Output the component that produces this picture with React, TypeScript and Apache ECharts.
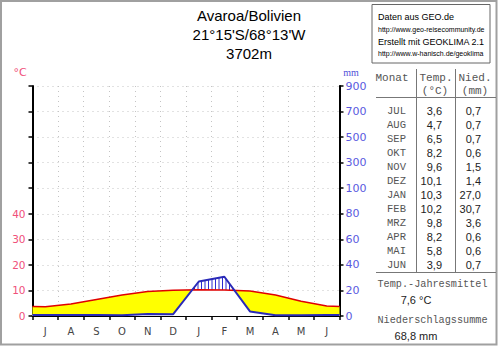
import React, { useEffect, useRef } from 'react';
import * as echarts from 'echarts';

// ---- data ----
const monthLetters = ['J', 'A', 'S', 'O', 'N', 'D', 'J', 'F', 'M', 'A', 'M', 'J'];
const tableMonths = ['JUL', 'AUG', 'SEP', 'OKT', 'NOV', 'DEZ', 'JAN', 'FEB', 'MRZ', 'APR', 'MAI', 'JUN'];
const temperature = [3.6, 4.7, 6.5, 8.2, 9.6, 10.1, 10.3, 10.2, 9.8, 8.2, 5.8, 3.9];
const precipitation = [0.7, 0.7, 0.7, 0.6, 1.5, 1.4, 27.0, 30.7, 3.6, 0.6, 0.6, 0.7];
const leftTickLabels = ['0', '10', '20', '30', '40'];
const rightTickLabels = ['0', '20', '40', '60', '80', '100', '300', '500', '700', '900'];
const titleLines = ['Avaroa/Bolivien', "21°15'S/68°13'W", '3702m'];

const fmt = (v: number) => v.toFixed(1).replace('.', ',');
// Walter-Lieth scale: 20 mm = 10 °C up to 100 mm, then 100 mm = 5 °C
const scaleP = (p: number) => (p <= 100 ? p / 2 : 50 + (p - 100) / 20);

function withEdges(vals: number[]) {
  const edge = (vals[0] + vals[vals.length - 1]) / 2;
  return [[0, edge], ...vals.map((v, i) => [i + 0.5, v]), [vals.length, edge]];
}

export default function App() {
  const ref = useRef<HTMLDivElement>(null);
  useEffect(() => {
    const chart = echarts.init(ref.current!, null, { renderer: 'svg' });
    const tempPts = withEdges(temperature);
    const precPts = withEdges(precipitation.map(scaleP));
    const meanT = temperature.reduce((a, b) => a + b, 0) / temperature.length;
    const sumP = precipitation.reduce((a, b) => a + b, 0);

    const mono = '"Liberation Mono", monospace';
    const sans = '"Liberation Sans", Arial, sans-serif';
    const verd = '"DejaVu Sans", Verdana, sans-serif';
    const graphics: any[] = [];
    // outer frame
    graphics.push({ type: 'rect', shape: { x: 1, y: 1, width: 495.5, height: 343.5 }, style: { fill: 'none', stroke: '#a0a0a0', lineWidth: 2 }, silent: true });
    // title
    titleLines.forEach((t, i) => {
      graphics.push({ type: 'text', x: 249, y: 15 + i * 19.3, style: { text: t, fontSize: 15, fontFamily: sans, fill: '#000', align: 'center', verticalAlign: 'middle' } });
    });
    // axis unit labels
    graphics.push({ type: 'text', x: 20, y: 72, style: { text: '°C', fontSize: 11, fontFamily: verd, fill: '#f0507a', align: 'center', verticalAlign: 'middle' } });
    graphics.push({ type: 'text', x: 351, y: 72, style: { text: 'mm', fontSize: 10, fontFamily: '"Liberation Serif", serif', fill: '#5050d8', align: 'center', verticalAlign: 'middle' } });
    // source box
    graphics.push({ type: 'rect', shape: { x: 372, y: 4.5, width: 118, height: 58.5 }, style: { fill: '#fff', stroke: '#666', lineWidth: 1 } });
    const boxLines = [
      { t: 'Daten aus GEO.de', y: 16.5, s: 9 },
      { t: 'http://www.geo-reisecommunity.de', y: 29.5, s: 7 },
      { t: 'Erstellt mit GEOKLIMA 2.1', y: 42, s: 9 },
      { t: 'http://www.w-hanisch.de/geoklima', y: 53.5, s: 7 },
    ];
    boxLines.forEach((b) => {
      graphics.push({ type: 'text', x: 378, y: b.y, style: { text: b.t, fontSize: b.s, fontFamily: sans, fill: '#000', align: 'left', verticalAlign: 'middle' } });
    });
    // table
    const lineStyle = { stroke: '#777', lineWidth: 1 };
    graphics.push({ type: 'line', shape: { x1: 416.5, y1: 69, x2: 416.5, y2: 272 }, style: lineStyle });
    graphics.push({ type: 'line', shape: { x1: 455.5, y1: 69, x2: 455.5, y2: 272 }, style: lineStyle });
    graphics.push({ type: 'line', shape: { x1: 376, y1: 97.5, x2: 496, y2: 97.5 }, style: lineStyle });
    graphics.push({ type: 'line', shape: { x1: 376, y1: 272.5, x2: 496, y2: 272.5 }, style: lineStyle });
    const hdr = [
      { t: 'Monat', x: 392, y: 78 },
      { t: 'Temp.', x: 436, y: 78 },
      { t: '(°C)', x: 435, y: 91 },
      { t: 'Nied.', x: 475, y: 78 },
      { t: '(mm)', x: 475, y: 91 },
    ];
    hdr.forEach((h) => {
      graphics.push({ type: 'text', x: h.x, y: h.y, style: { text: h.t, fontSize: 11, fontFamily: mono, fill: '#555', align: 'center', verticalAlign: 'middle' } });
    });
    tableMonths.forEach((m, i) => {
      const y = 111 + i * 14;
      graphics.push({ type: 'text', x: 396.5, y, style: { text: m, fontSize: 10.5, fontFamily: mono, fill: '#555', align: 'center', verticalAlign: 'middle' } });
      graphics.push({ type: 'text', x: 442, y, style: { text: fmt(temperature[i]), fontSize: 11, fontFamily: sans, fill: '#222', align: 'right', verticalAlign: 'middle' } });
      graphics.push({ type: 'text', x: 481, y, style: { text: fmt(precipitation[i]), fontSize: 11, fontFamily: sans, fill: '#222', align: 'right', verticalAlign: 'middle' } });
    });
    graphics.push({ type: 'text', x: 432.5, y: 284, style: { text: 'Temp.-Jahresmittel', fontSize: 10.2, fontFamily: mono, fill: '#555', align: 'center', verticalAlign: 'middle' } });
    graphics.push({ type: 'text', x: 416, y: 299.5, style: { text: fmt(meanT) + ' °C', fontSize: 11, fontFamily: sans, fill: '#222', align: 'center', verticalAlign: 'middle' } });
    graphics.push({ type: 'text', x: 432.5, y: 320.5, style: { text: 'Niederschlagssumme', fontSize: 10.2, fontFamily: mono, fill: '#555', align: 'center', verticalAlign: 'middle' } });
    graphics.push({ type: 'text', x: 416, y: 335.5, style: { text: fmt(sumP) + ' mm', fontSize: 11, fontFamily: sans, fill: '#222', align: 'center', verticalAlign: 'middle' } });

    const dotted = { color: '#c4c4c4', width: 1, type: [1, 4] as any };
    const option: any = {
      animation: false,
      backgroundColor: '#fff',
      grid: { left: 32.5, right: 160.5, top: 86, bottom: 31, containLabel: false },
      xAxis: [
        {
          type: 'value', min: 0, max: 12, interval: 1, position: 'bottom',
          axisLine: { show: true, onZero: false, lineStyle: { color: '#000', width: 2 } },
          axisTick: { show: true, length: 4, lineStyle: { color: '#000', width: 1.5 } },
          axisLabel: { show: false },
          splitLine: { show: true, lineStyle: dotted },
        },
        {
          type: 'category', data: monthLetters, position: 'bottom', boundaryGap: true,
          axisLine: { show: false }, axisTick: { show: false }, splitLine: { show: false },
          axisLabel: { show: true, color: '#444', fontSize: 10, fontFamily: verd, margin: 10, interval: 0 },
        },
      ],
      yAxis: [
        {
          type: 'value', min: 0, max: 90, interval: 10, position: 'left',
          axisLine: { show: true, onZero: false, lineStyle: { color: '#000', width: 2 } },
          axisTick: { show: true, length: 4, lineStyle: { color: '#000', width: 1.5 } },
          axisLabel: { color: '#f0507a', fontSize: 10.5, fontFamily: verd, margin: 7, formatter: (v: number) => leftTickLabels[Math.round(v / 10)] ?? '' },
          splitLine: { show: true, lineStyle: dotted },
        },
        {
          type: 'value', min: 0, max: 90, interval: 10, position: 'right',
          axisLine: { show: true, onZero: false, lineStyle: { color: '#000', width: 2 } },
          axisTick: { show: true, length: 4, lineStyle: { color: '#000', width: 1.5 } },
          axisLabel: { color: '#5a5ae0', fontSize: 11, fontFamily: verd, margin: 6, formatter: (v: number) => rightTickLabels[Math.round(v / 10)] ?? '' },
          splitLine: { show: false },
        },
      ],
      series: [
        {
          type: 'line', xAxisIndex: 0, yAxisIndex: 0, data: tempPts, symbol: 'none', z: 2,
          lineStyle: { width: 0, opacity: 0 }, areaStyle: { color: '#ffff00', opacity: 1 },
        },
        {
          type: 'line', xAxisIndex: 0, yAxisIndex: 0, data: precPts, symbol: 'none', z: 3,
          lineStyle: { width: 0, opacity: 0 }, areaStyle: { color: '#ffffff', opacity: 1 },
        },
        {
          type: 'custom', xAxisIndex: 0, yAxisIndex: 0, data: [[0, 0]], z: 4, silent: true,
          renderItem: (_p: any, api: any) => {
            const tp = tempPts.map((p) => api.coord(p));
            const pp = precPts.map((p) => api.coord(p));
            const children: any[] = [];
            const x0 = tp[0][0];
            const x1 = tp[tp.length - 1][0];
            for (let x = x0 + 1; x < x1; x += 3.5) {
              let k = 0;
              while (k < tp.length - 2 && tp[k + 1][0] < x) k++;
              const f = (x - tp[k][0]) / (tp[k + 1][0] - tp[k][0]);
              const yt = tp[k][1] + f * (tp[k + 1][1] - tp[k][1]);
              const yp = pp[k][1] + f * (pp[k + 1][1] - pp[k][1]);
              if (yp < yt - 0.5) {
                children.push({ type: 'line', shape: { x1: x, y1: yt, x2: x, y2: yp }, style: { stroke: '#2b2bd0', lineWidth: 1 } });
              }
            }
            return { type: 'group', children };
          },
        },
        {
          type: 'line', xAxisIndex: 0, yAxisIndex: 0, data: tempPts, symbol: 'none', z: 5,
          lineStyle: { color: '#e00000', width: 1.5 },
        },
        {
          type: 'line', xAxisIndex: 0, yAxisIndex: 0, data: precPts, symbol: 'none', z: 6,
          lineStyle: { color: '#2a2ab8', width: 2 },
        },
      ],
      graphic: graphics,
    };
    chart.setOption(option);
    return () => chart.dispose();
  }, []);
  return <div ref={ref} style={{ position: 'fixed', left: 0, top: 0, width: 500, height: 347, background: '#fff' }} />;
}
